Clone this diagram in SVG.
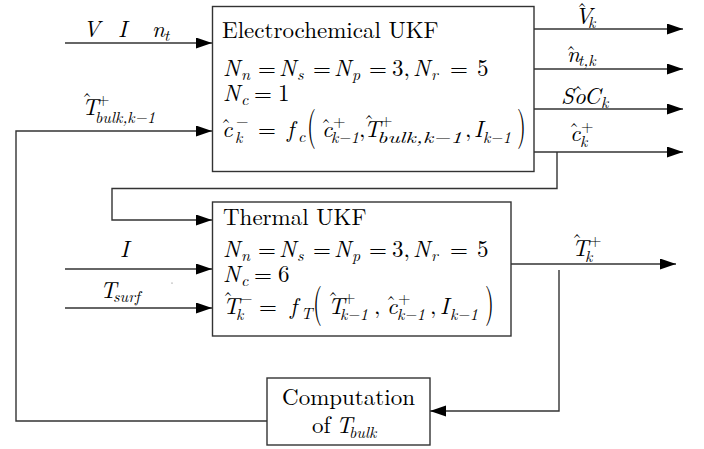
<svg xmlns="http://www.w3.org/2000/svg" width="704" height="449" viewBox="0 0 704 449">
<defs>
<style>
.box{fill:#fff;stroke:#333;stroke-width:1.4}
.ln{fill:none;stroke:#333;stroke-width:1.4}
.t{font-size:23px;fill:#000}
.i{font-style:italic}
.sb{font-size:16px}
.h{font-size:20px;font-style:normal}
</style>
<marker id="ar" markerUnits="userSpaceOnUse" markerWidth="17" markerHeight="12" refX="16" refY="5.5" orient="auto">
<path d="M0,0 L16,5.5 L0,11 z" fill="#000"/>
</marker>
</defs>
<rect width="704" height="449" fill="#fff"/>

<g id="connectors">
<path class="ln" d="M65,43 H212" marker-end="url(#ar)"/>
<path class="ln" d="M267,421 H16 V131 H212" marker-end="url(#ar)"/>
<path class="ln" d="M534,29 H683" marker-end="url(#ar)"/>
<path class="ln" d="M534,69 H683" marker-end="url(#ar)"/>
<path class="ln" d="M534,109 H683" marker-end="url(#ar)"/>
<path class="ln" d="M534,152 H683" marker-end="url(#ar)"/>
<path class="ln" d="M557,152 V188.5 H112 V220 H212" marker-end="url(#ar)"/>
<path class="ln" d="M65,269 H212" marker-end="url(#ar)"/>
<path class="ln" d="M65,308 H212" marker-end="url(#ar)"/>
<path class="ln" d="M511,264 H676" marker-end="url(#ar)"/>
<path class="ln" d="M559,270 V411 H430" marker-end="url(#ar)"/>
</g>

<g font-family="'Latin Modern Roman','Liberation Serif',serif">
<g id="labels">
<text class="t i"><tspan x="83" y="37">V</tspan><tspan x="118" y="37">I</tspan><tspan x="152" y="37">n</tspan><tspan class="sb" x="164" y="41">t</tspan></text>
<text class="t"><tspan class="i" x="82" y="115">T</tspan><tspan class="h" x="82" y="107">ˆ</tspan><tspan class="sb" x="97" y="105">+</tspan><tspan class="sb i" x="95" y="123">bulk,k−1</tspan></text>
<text class="t"><tspan class="i" x="575" y="24">V</tspan><tspan class="h" x="577" y="17">ˆ</tspan><tspan class="sb i" x="588" y="28">k</tspan></text>
<text class="t"><tspan class="i" x="567" y="62">n</tspan><tspan class="h" x="566" y="60">ˆ</tspan><tspan class="sb i" x="578" y="66">t,k</tspan></text>
<text class="t"><tspan class="i" x="561" y="104">S</tspan><tspan class="i" x="574" y="104">o</tspan><tspan class="h" x="573" y="100">ˆ</tspan><tspan class="i" x="584" y="104">C</tspan><tspan class="sb i" x="601" y="108">k</tspan></text>
<text class="t"><tspan class="i" x="570" y="141">c</tspan><tspan class="h" x="569" y="137">ˆ</tspan><tspan class="sb" x="581" y="132">+</tspan><tspan class="sb i" x="580" y="147">k</tspan></text>
<text class="t i"><tspan x="120" y="257">I</tspan></text>
<text class="t"><tspan class="i" x="100" y="298">T</tspan><tspan class="sb i" x="113" y="302">surf</tspan></text>
<text class="t"><tspan class="i" x="572" y="256">T</tspan><tspan class="h" x="572" y="248">ˆ</tspan><tspan class="sb" x="589" y="246">+</tspan><tspan class="sb i" x="585" y="262">k</tspan></text>
<circle cx="172" cy="283" r="0.6" fill="#666"/>
</g>

<g id="ekf">
<rect class="box" x="212.5" y="6.5" width="321.5" height="165"/>
<text class="t" x="222" y="38">Electrochemical UKF</text>
<text class="t"><tspan class="i" x="223" y="76">N</tspan><tspan class="sb i" x="241" y="80">n</tspan><tspan x="258" y="76">=</tspan><tspan class="i" x="279" y="76">N</tspan><tspan class="sb i" x="297" y="80">s</tspan><tspan x="313" y="76">=</tspan><tspan class="i" x="334" y="76">N</tspan><tspan class="sb i" x="352" y="80">p</tspan><tspan x="369" y="76">=</tspan><tspan x="392" y="76">3,</tspan><tspan class="i" x="413" y="76">N</tspan><tspan class="sb i" x="431" y="80">r</tspan><tspan x="450" y="76">=</tspan><tspan x="477" y="76">5</tspan></text>
<text class="t"><tspan class="i" x="223" y="101">N</tspan><tspan class="sb i" x="241" y="105">c</tspan><tspan x="254" y="101">=</tspan><tspan x="278" y="101">1</tspan></text>
<text class="t"><tspan class="i" x="222" y="137">c</tspan><tspan class="h" x="221" y="133">ˆ</tspan><tspan class="sb" x="236" y="127">−</tspan><tspan class="sb i" x="235" y="143">k</tspan><tspan x="258" y="137">=</tspan><tspan class="i" x="287" y="137">f</tspan><tspan class="sb i" x="298" y="142">c</tspan><tspan class="i" x="322" y="137">c</tspan><tspan class="h" x="321" y="133">ˆ</tspan><tspan class="sb" x="333" y="127">+</tspan><tspan class="sb i" x="331" y="143">k−1</tspan><tspan x="359" y="137">,</tspan><tspan class="i" x="364" y="137">T</tspan><tspan class="h" x="364" y="129">ˆ</tspan><tspan class="sb" x="380" y="126">+</tspan><tspan class="sb i" x="377" y="143" textLength="85" lengthAdjust="spacingAndGlyphs">bulk,k−1</tspan><tspan x="465" y="137">,</tspan><tspan class="i" x="474" y="137">I</tspan><tspan class="sb i" x="483" y="143">k−1</tspan></text>
<text class="t" transform="translate(307,139) scale(1,1.75)">(</text>
<text class="t" transform="translate(517,139) scale(1,1.75)">)</text>
</g>

<g id="tukf">
<rect class="box" x="212.5" y="202" width="298.5" height="134"/>
<text class="t" x="223" y="225">Thermal UKF</text>
<text class="t"><tspan class="i" x="223" y="257">N</tspan><tspan class="sb i" x="241" y="261">n</tspan><tspan x="258" y="257">=</tspan><tspan class="i" x="279" y="257">N</tspan><tspan class="sb i" x="297" y="261">s</tspan><tspan x="313" y="257">=</tspan><tspan class="i" x="334" y="257">N</tspan><tspan class="sb i" x="352" y="261">p</tspan><tspan x="369" y="257">=</tspan><tspan x="392" y="257">3,</tspan><tspan class="i" x="413" y="257">N</tspan><tspan class="sb i" x="431" y="261">r</tspan><tspan x="450" y="257">=</tspan><tspan x="477" y="257">5</tspan></text>
<text class="t"><tspan class="i" x="223" y="282">N</tspan><tspan class="sb i" x="241" y="286">c</tspan><tspan x="254" y="282">=</tspan><tspan x="278" y="282">6</tspan></text>
<text class="t"><tspan class="i" x="223" y="314">T</tspan><tspan class="h" x="223" y="306">ˆ</tspan><tspan class="sb" x="240" y="304">−</tspan><tspan class="sb i" x="236" y="320">k</tspan><tspan x="259" y="314">=</tspan><tspan class="i" x="290" y="314">f</tspan><tspan class="sb i" x="301" y="319">T</tspan><tspan class="i" x="328" y="314">T</tspan><tspan class="h" x="328" y="306">ˆ</tspan><tspan class="sb" x="343" y="303">+</tspan><tspan class="sb i" x="340" y="320">k−1</tspan><tspan x="374" y="314">,</tspan><tspan class="i" x="387" y="314">c</tspan><tspan class="h" x="386" y="310">ˆ</tspan><tspan class="sb" x="398" y="304">+</tspan><tspan class="sb i" x="397" y="320">k−1</tspan><tspan x="430" y="314">,</tspan><tspan class="i" x="440" y="314">I</tspan><tspan class="sb i" x="450" y="320">k−1</tspan></text>
<text class="t" transform="translate(313,316) scale(1,1.75)">(</text>
<text class="t" transform="translate(485,316) scale(1,1.75)">)</text>
</g>

<g id="tbulk">
<rect class="box" x="267" y="378" width="163" height="67"/>
<text class="t" x="348.5" y="405" text-anchor="middle">Computation</text>
<text class="t"><tspan x="312" y="433">of</tspan><tspan class="i" x="336" y="433">T</tspan><tspan class="sb i" x="349" y="438">bulk</tspan></text>
</g>
</g>
</svg>
